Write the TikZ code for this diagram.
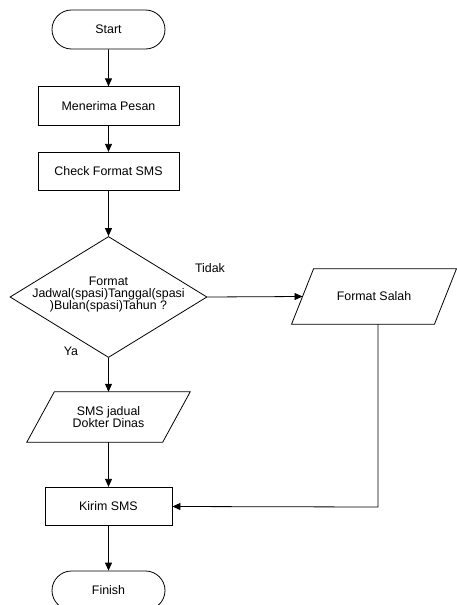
\documentclass[tikz,border=0pt]{standalone}
\usepackage{fontspec}
\setmainfont{Liberation Sans}
\usetikzlibrary{shapes.geometric,shapes.misc,arrows.meta}
\begin{document}
\begin{tikzpicture}[x=1pt,y=-1pt,
  every node/.style={font=\fontsize{12.4}{12.2}\selectfont},
  base/.style={draw=black,line width=0.8pt,inner sep=0pt},
  term/.style={base,rounded rectangle,minimum width=113pt,minimum height=39pt},
  proc/.style={base,rectangle,minimum height=38.5pt},
  decision/.style={base,diamond,minimum width=197pt,minimum height=121pt},
  io/.style={inner sep=0pt,rectangle,align=center},
  outline/.style={draw=black,line width=0.8pt,line join=miter},
  arr/.style={line width=0.8pt,-{Triangle[length=8pt,width=7pt]}},
  lbl/.style={inner sep=0pt}]
\useasboundingbox (0,0) rectangle (457,605);
\node[term] (start) at (108.5,29.5) {Start};
\node[proc,minimum width=141pt] (terima) at (108.5,106) {Menerima Pesan};
\node[proc,minimum width=141pt] (cek) at (108.5,171.5) {Check Format SMS};
\node[decision] (d) at (108.5,297) {};
\node[lbl,align=center] (dtext) at (108.5,294.5) {Format\\Jadwal(spasi)Tanggal(spasi\\)Bulan(spasi)Tahun ?};
\node[io,minimum width=142.5pt,minimum height=55pt] (fs) at (374,296.5) {Format Salah};
\draw[outline] ([xshift=11pt]fs.north west) -- ([xshift=11pt]fs.north east)
  -- ([xshift=-11pt]fs.south east) -- ([xshift=-11pt]fs.south west) -- cycle;
\node[io,minimum width=135.5pt,minimum height=50pt] (jadwal) at (108.5,417) {SMS jadual\\Dokter Dinas};
\draw[outline] ([xshift=13.75pt]jadwal.north west) -- ([xshift=13.75pt]jadwal.north east)
  -- ([xshift=-13.75pt]jadwal.south east) -- ([xshift=-13.75pt]jadwal.south west) -- cycle;
\node[proc,minimum width=127pt] (kirim) at (108.5,506.5) {Kirim SMS};
\node[term] (finish) at (108.5,590.5) {Finish};
\node[lbl] (tidak) at (210,268) {Tidak};
\node[lbl] (ya) at (71,351) {Ya};
\coordinate (c1) at (378,507);
\draw[arr] (start) -- (terima);
\draw[arr] (terima) -- (cek);
\draw[arr] (cek) -- (d.north);
\draw[arr] (d.south) -- (jadwal);
\draw[arr] (jadwal) -- (kirim);
\draw[arr] (kirim) -- (finish);
\draw[arr] (d.east) -- (fs.west);
\draw[arr] (fs.south -| c1) -- (c1) -- (kirim.east);
\end{tikzpicture}
\end{document}
